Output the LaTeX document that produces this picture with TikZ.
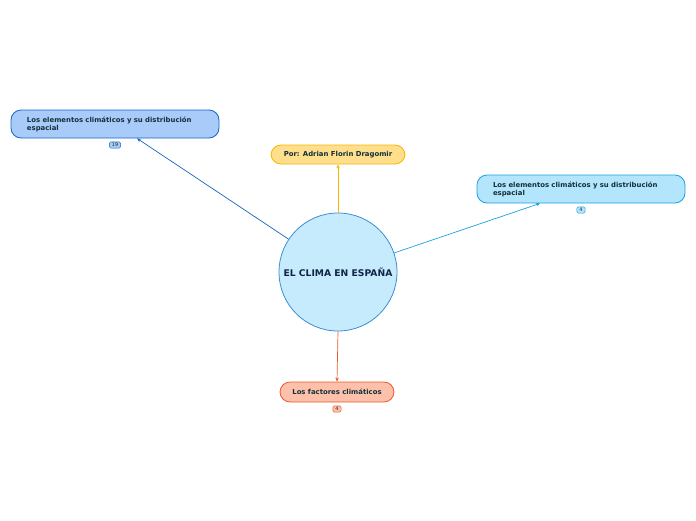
\documentclass[tikz,border=0pt]{standalone}
\usepackage{fontspec}
\setmainfont{DejaVu Sans}
\usetikzlibrary{arrows.meta}
\definecolor{txt}{HTML}{12303A}
\definecolor{ctxt}{HTML}{0F2447}
\definecolor{lbfill}{HTML}{A9CBFA}
\definecolor{lbdraw}{HTML}{1565C0}
\definecolor{rbfill}{HTML}{B3E5FC}
\definecolor{rbdraw}{HTML}{1BA1E2}
\definecolor{tbfill}{HTML}{FFDF8C}
\definecolor{tbdraw}{HTML}{F7B500}
\definecolor{bbfill}{HTML}{FDC0AA}
\definecolor{bbdraw}{HTML}{EA5A2A}
\definecolor{cfill}{HTML}{C6EBFC}
\definecolor{cdraw}{HTML}{3A8FD0}
\begin{document}
\begin{tikzpicture}[x=1pt,y=-1pt,
  topic/.style={draw, line width=0.8pt, rounded corners=10pt, font=\bfseries\fontsize{6.9}{8}\selectfont, text=txt},
  widebox/.style={topic, minimum width=208pt, minimum height=28pt, text width=176pt, align=left, inner xsep=16pt, execute at begin node={\hyphenpenalty=10000\exhyphenpenalty=10000}},
  badge/.style={draw, line width=0.5pt, rounded corners=1.5pt, inner xsep=2.5pt, inner ysep=1.3pt, font=\fontsize{5}{5.5}\selectfont, text=txt},
  conn/.style={line width=0.7pt, -{Stealth[length=4pt,width=3.5pt]}}]
\useasboundingbox (0,0) rectangle (696,520);
\node[circle, draw=cdraw, fill=cfill, line width=0.8pt, minimum size=118pt, font=\bfseries\fontsize{9.2}{10}\selectfont, text=ctxt, inner sep=0pt] (c) at (338,272) {EL CLIMA EN ESPAÑA};
\node[widebox, draw=lbdraw, fill=lbfill] (lb) at (115,124) {Los elementos climáticos y su distribución espacial};
\node[badge, draw=lbdraw, fill=lbfill] (lbb) at (115,145) {19};
\node[widebox, draw=rbdraw, fill=rbfill] (rb) at (581,189) {Los elementos climáticos y su distribución espacial};
\node[badge, draw=rbdraw, fill=rbfill] (rbb) at (581,210) {4};
\node[topic, draw=tbdraw, fill=tbfill, minimum width=134pt, minimum height=19pt] (tb) at (338,154.5) {Por: Adrian Florin Dragomir};
\node[topic, draw=bbdraw, fill=bbfill, minimum width=114pt, minimum height=20pt] (bb) at (337,392) {Los factores climáticos};
\node[badge, draw=bbdraw, fill=bbfill] (bbb) at (337,409) {4};
\coordinate (lt) at ([xshift=22pt]lb.south);
\coordinate (rt) at ([xshift=-41pt]rb.south);
\draw[conn, draw=lbdraw] (c) -- (lt);
\draw[conn, draw=rbdraw] (c) -- (rt);
\draw[conn, draw=tbdraw] (c.north) -- (tb.south);
\draw[conn, draw=bbdraw] (c.south) -- (bb.north);
\end{tikzpicture}
\end{document}
